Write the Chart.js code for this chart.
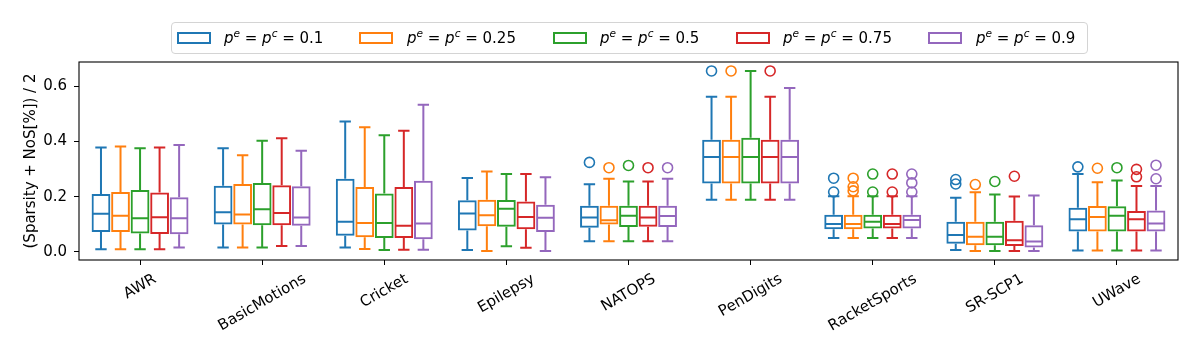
<!DOCTYPE html>
<html><head><meta charset="utf-8">
<script src="https://cdn.jsdelivr.net/npm/chart.js@4.4.0/dist/chart.umd.min.js"></script>
<style>
html,body{margin:0;padding:0;background:#fff;}
#wrap{position:relative;width:1196px;height:359px;overflow:hidden;}
canvas{position:absolute;left:0;top:0;}
#legend{position:absolute;left:171px;top:22px;width:917px;height:32px;border:1px solid #d4d4d4;border-radius:4px;box-sizing:border-box;font-family:'DejaVu Sans';font-size:15px;color:#000;background:rgba(255,255,255,0.8);}
.sw{position:absolute;top:8.7px;width:34px;height:12px;box-sizing:border-box;border:2px solid;}
.tx{position:absolute;top:0;line-height:30px;white-space:nowrap;}
.tx sup{font-size:10.5px;vertical-align:6px;line-height:0;font-style:italic;}
</style></head>
<body><div id="wrap"><canvas id="c" width="1196" height="359"></canvas><div id="legend"></div></div>
<script>
const categories = ['AWR','BasicMotions','Cricket','Epilepsy','NATOPS','PenDigits','RacketSports','SR-SCP1','UWave'];
const seriesP = ['0.1','0.25','0.5','0.75','0.9'];
const yTicks = [0.0, 0.2, 0.4, 0.6];
// rows = series (p=0.1,0.25,0.5,0.75,0.9), columns = categories
const whiskerLow = [
  [0.010,0.016,0.016,0.007,0.039,0.189,0.051,0.007,0.005],
  [0.010,0.016,0.011,0.004,0.039,0.189,0.051,0.004,0.005],
  [0.010,0.016,0.007,0.021,0.039,0.189,0.051,0.004,0.005],
  [0.010,0.022,0.008,0.015,0.039,0.189,0.051,0.004,0.005],
  [0.016,0.022,0.008,0.004,0.039,0.189,0.051,0.004,0.005]
];
const q1 = [
  [0.072,0.099,0.059,0.078,0.088,0.248,0.082,0.030,0.074],
  [0.072,0.099,0.053,0.093,0.099,0.248,0.082,0.024,0.074],
  [0.067,0.097,0.051,0.091,0.090,0.248,0.085,0.024,0.074],
  [0.065,0.097,0.051,0.082,0.091,0.248,0.085,0.022,0.074],
  [0.064,0.095,0.046,0.072,0.090,0.248,0.085,0.016,0.074]
];
const median = [
  [0.138,0.144,0.109,0.139,0.125,0.344,0.101,0.061,0.118],
  [0.131,0.136,0.105,0.133,0.115,0.344,0.101,0.055,0.127],
  [0.122,0.155,0.105,0.156,0.131,0.344,0.109,0.055,0.131],
  [0.126,0.141,0.095,0.127,0.125,0.344,0.101,0.042,0.118],
  [0.122,0.125,0.103,0.124,0.130,0.344,0.116,0.038,0.103]
];
const q3 = [
  [0.210,0.240,0.265,0.187,0.167,0.406,0.135,0.109,0.160],
  [0.217,0.246,0.235,0.189,0.167,0.406,0.135,0.109,0.166],
  [0.224,0.250,0.212,0.188,0.167,0.413,0.135,0.109,0.165],
  [0.215,0.241,0.235,0.183,0.167,0.406,0.135,0.113,0.148],
  [0.198,0.238,0.258,0.171,0.167,0.406,0.135,0.097,0.150]
];
const whiskerHigh = [
  [0.378,0.375,0.472,0.268,0.245,0.562,0.202,0.196,0.282],
  [0.382,0.350,0.451,0.291,0.265,0.562,0.202,0.216,0.252],
  [0.375,0.402,0.422,0.282,0.255,0.655,0.202,0.208,0.259],
  [0.378,0.411,0.439,0.282,0.255,0.562,0.202,0.201,0.239],
  [0.387,0.366,0.533,0.270,0.265,0.593,0.202,0.204,0.239]
];
const outliers = [
  [[],[],[],[],[0.324],[0.655],[0.267,0.217],[0.262,0.246],[0.308]],
  [[],[],[],[],[0.305],[0.655],[0.267,0.236,0.221],[0.244],[0.303]],
  [[],[],[],[],[0.313],[],[0.282,0.217],[0.255],[0.305]],
  [[],[],[],[],[0.305],[0.655],[0.282,0.217],[0.274],[0.299,0.272]],
  [[],[],[],[],[0.305],[],[0.282,0.250,0.217],[],[0.314,0.265]]
];

const colors = ['#1f77b4','#ff7f0e','#2ca02c','#d62728','#9467bd'];

// HTML legend (math-style labels)
const legendEl = document.getElementById('legend');
const swX = [5,187,381,564,756], txX = [52,235,428,611,804];
seriesP.forEach((p,s)=>{
  const sw = document.createElement('div'); sw.className='sw'; sw.style.left=swX[s]+'px'; sw.style.borderColor=colors[s];
  const tx = document.createElement('div'); tx.className='tx'; tx.style.left=txX[s]+'px';
  tx.innerHTML = '<i>p</i><sup>e</sup> = <i>p</i><sup>c</sup> = '+p;
  legendEl.appendChild(sw); legendEl.appendChild(tx);
});

const boxPlugin = {
  id:'boxes',
  afterDatasetsDraw(chart){
    const ctx = chart.ctx, y = chart.scales.y;
    chart.data.datasets.forEach((ds, s) => {
      const meta = chart.getDatasetMeta(s);
      meta.data.forEach((bar, c) => {
        const {x, width} = bar.getProps(['x','width'], true);
        const half = width/2;
        const P = v => y.getPixelForValue(v);
        ctx.save();
        ctx.strokeStyle = colors[s]; ctx.lineWidth = 2; ctx.lineCap = 'butt';
        ctx.beginPath();
        const ym = P(median[s][c]);
        ctx.moveTo(x-half+1, ym); ctx.lineTo(x+half-1, ym);
        const yq1 = P(q1[s][c]), yq3 = P(q3[s][c]);
        const ylo = P(whiskerLow[s][c]), yhi = P(whiskerHigh[s][c]);
        ctx.moveTo(x, yq3); ctx.lineTo(x, yhi);
        ctx.moveTo(x, yq1); ctx.lineTo(x, ylo);
        const cap = width/4 + 1;
        ctx.moveTo(x-cap, yhi); ctx.lineTo(x+cap, yhi);
        ctx.moveTo(x-cap, ylo); ctx.lineTo(x+cap, ylo);
        ctx.stroke();
        ctx.lineWidth = 1.6;
        outliers[s][c].forEach(v => { ctx.beginPath(); ctx.arc(x, P(v), 5, 0, 2*Math.PI); ctx.stroke(); });
        ctx.restore();
      });
    });
  }
};

const framePlugin = {
  id:'frame',
  afterDraw(chart){
    const {ctx, chartArea:a} = chart; const xs = chart.scales.x;
    ctx.save();
    ctx.strokeStyle='#000'; ctx.lineWidth=1.1;
    ctx.strokeRect(a.left, a.top, a.right-a.left, a.bottom-a.top);
    ctx.font = '15px "DejaVu Sans"'; ctx.fillStyle='#000'; ctx.textAlign='center'; ctx.textBaseline='middle';
    const ang = 30*Math.PI/180, h = 17.5;
    chart.data.labels.forEach((lab,i)=>{
      const px = xs.getPixelForValue(i);
      const w = ctx.measureText(lab).width;
      const H = w*Math.sin(ang) + h*Math.cos(ang);
      const cy = a.bottom + 10.5 + H/2;
      ctx.save(); ctx.translate(px, cy); ctx.rotate(-ang); ctx.fillText(lab,0,0); ctx.restore();
    });
    ctx.restore();
  }
};

new Chart(document.getElementById('c'), {
  type:'bar',
  data:{
    labels: categories,
    datasets: seriesP.map((p,s)=>({
      label:'pᵉ = pᶜ = '+p,
      data: categories.map((_,c)=>[q1[s][c], q3[s][c]]),
      backgroundColor:'rgba(0,0,0,0)', borderColor: colors[s], borderWidth:2, borderSkipped:false,
      categoryPercentage:0.8, barPercentage:0.96
    }))
  },
  options:{
    responsive:false, animation:false, devicePixelRatio:1,
    layout:{padding:{top:62, right:18, left:0, bottom:0}},
    plugins:{legend:{display:false}, tooltip:{enabled:false}},
    scales:{
      x:{
        offset:true,
        grid:{display:true, drawOnChartArea:false, drawTicks:true, tickLength:5, color:'#000', offset:false},
        border:{display:false},
        ticks:{display:false},
        afterFit(s){ s.height = 99; }
      },
      y:{
        min:-0.029, max:0.6873,
        afterBuildTicks(s){ s.ticks = yTicks.map(v=>({value:v})); },
        ticks:{font:{family:'DejaVu Sans', size:15}, color:'#000', padding:7, callback:v=>Number(v).toFixed(1)},
        grid:{display:true, drawOnChartArea:false, drawTicks:true, tickLength:5, color:'#000'},
        border:{display:false},
        title:{display:true, text:'(Sparsity + NoS[%]) / 2', font:{family:'DejaVu Sans', size:15}, color:'#000', padding:{top:22,bottom:0}},
        afterFit(s){ s.width = 79; }
      }
    }
  },
  plugins:[boxPlugin, framePlugin]
});
</script></body></html>
